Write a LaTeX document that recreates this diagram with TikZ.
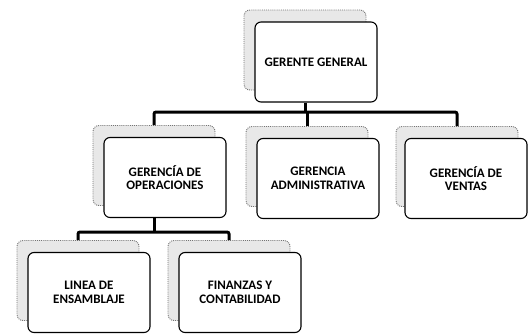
\documentclass[tikz,border=0pt]{standalone}
\usepackage{fontspec}
\setmainfont{Carlito}
\usetikzlibrary{calc}

\begin{document}
\begin{tikzpicture}[x=1pt,y=-1pt,
	sombra/.style={draw=black!55,densely dotted,line width=0.9pt,fill=black!9,rounded corners=6pt,minimum width=122pt,minimum height=80pt},
	caja/.style={draw=black,line width=1.1pt,fill=white,rounded corners=6pt,minimum width=122pt,minimum height=80pt,align=center,font=\fontsize{13}{13.5}\selectfont\bfseries},
	enlace/.style={line width=3pt,rounded corners=2pt}]
	
	\useasboundingbox (0,0) rectangle (528,333);
	
	% cajas de atras
	\node[sombra] (ggs) at (305,50) {};
	\node[sombra] (gos) at (154,165.5) {};
	\node[sombra] (gas) at (307,166.5) {};
	\node[sombra] (gvs) at (457,166.5) {};
	\node[sombra] (les) at (78,280.5) {};
	\node[sombra] (fcs) at (229,280.5) {};
	
	% cajas de adelante
	\node[caja] (gg) at (316,62) {GERENTE GENERAL};
	\node[caja] (go) at (165,177.5) {GERENCÍA DE\\OPERACIONES};
	\node[caja] (ga) at (318,178.5) {GERENCIA\\ADMINISTRATIVA};
	\node[caja] (gv) at (466,178.5) {GERENCÍA DE\\VENTAS};
	\node[caja] (le) at (89,292.5) {LINEA DE\\ENSAMBLAJE};
	\node[caja] (fc) at (240,292.5) {FINANZAS Y\\CONTABILIDAD};
	
	\coordinate (barra1) at (0,112);
	\coordinate (barra2) at (0,232);
	
	\draw[enlace] (ggs |- gg.south) -- (ggs |- barra1);
	\draw[enlace] (gos.north) -- (gos |- barra1) -- (gvs |- barra1) -- (gvs.north);
	\draw[enlace] (gas |- barra1) -- (gas.north);
	\draw[enlace] (gos |- go.south) -- (gos |- barra2);
	\draw[enlace] (les.north) -- (les |- barra2) -- (fcs |- barra2) -- (fcs.north);
	
\end{tikzpicture}
\end{document}
